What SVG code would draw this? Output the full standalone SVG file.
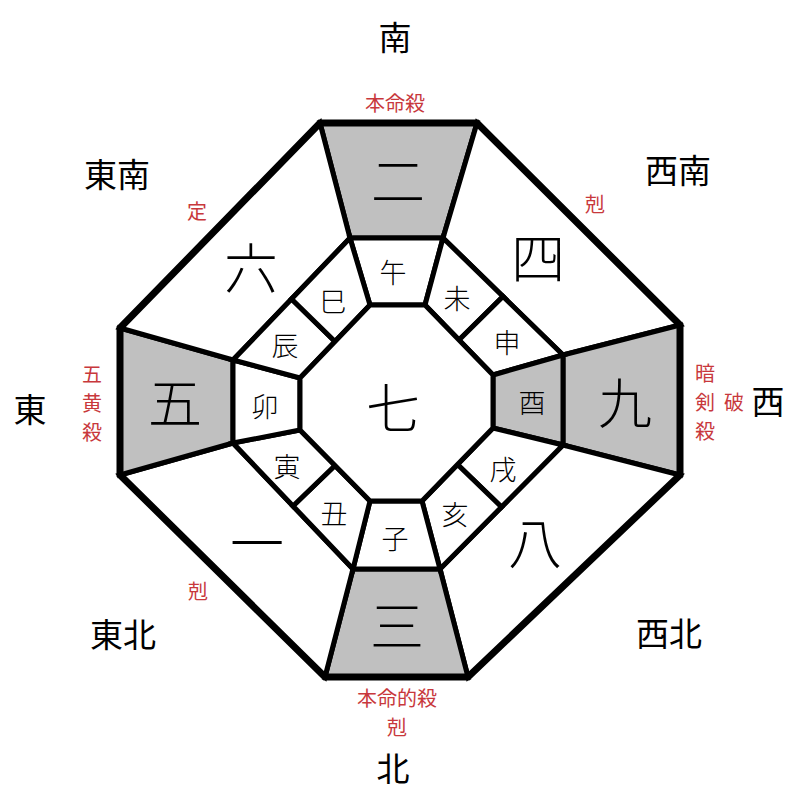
<svg xmlns="http://www.w3.org/2000/svg" width="800" height="800" viewBox="0 0 800 800">
<style>
  text { font-family: "Noto Sans CJK JP", "Noto Sans CJK SC", sans-serif; text-anchor: middle; dominant-baseline: central; }
  .cell { fill: #ffffff; stroke: #000000; stroke-width: 5; stroke-linejoin: miter; }
  .grey { fill: #c0c0c0; }
  .big { font-size: 54px; fill: #000; font-weight: 300; }
  .zod { font-size: 27px; fill: #000; font-weight: 300; }
  .dir { font-size: 33px; fill: #000; }
  .red { font-size: 20px; fill: #c8383c; }
  .frame { fill: none; stroke: #000; stroke-width: 7; stroke-linejoin: miter; }
</style>
<rect width="800" height="800" fill="#ffffff"/>

<g id="outer-ring">
  <g id="n-2"><polygon class="cell grey" points="320,123 477,123 443,238 350,238"/><text class="big" x="398" y="178">二</text></g>
  <g id="ne-4"><polygon class="cell" points="477,123 680,325 563,355 443,238"/><text class="big" x="538" y="255">四</text></g>
  <g id="e-9"><polygon class="cell grey" points="680,325 680,475 563,445 563,355"/><text class="big" x="625" y="400">九</text></g>
  <g id="se-8"><polygon class="cell" points="680,475 468,677 440,569 563,445"/><text class="big" x="535" y="540">八</text></g>
  <g id="s-3"><polygon class="cell grey" points="468,677 325,677 353,569 440,569"/><text class="big" x="397" y="623">三</text></g>
  <g id="sw-1"><polygon class="cell" points="325,677 120,475 233,443 353,569"/><text class="big" x="257" y="540">一</text></g>
  <g id="w-5"><polygon class="cell grey" points="120,475 120,328 233,360 233,443"/><text class="big" x="175" y="400">五</text></g>
  <g id="nw-6"><polygon class="cell" points="120,328 320,123 350,238 233,360"/><text class="big" x="251" y="265">六</text></g>
</g>

<g id="zodiac-ring">
  <g id="z-uma"><polygon class="cell" points="350,238 443,238 425,305 370,305"/><text class="zod" x="393" y="271">午</text></g>
  <g id="z-hitsuji"><polygon class="cell" points="443,238 503,296.5 459,340 425,305"/><text class="zod" x="457" y="297">未</text></g>
  <g id="z-saru"><polygon class="cell" points="503,296.5 563,355 493,375 459,340"/><text class="zod" x="507" y="341">申</text></g>
  <g id="z-tori"><polygon class="cell grey" points="563,355 563,445 493,428 493,375"/><text class="zod" x="532" y="401">酉</text></g>
  <g id="z-inu"><polygon class="cell" points="563,445 501.5,507 457.5,464.5 493,428"/><text class="zod" x="503" y="468">戌</text></g>
  <g id="z-i"><polygon class="cell" points="501.5,507 440,569 422,501 457.5,464.5"/><text class="zod" x="455" y="513">亥</text></g>
  <g id="z-ne"><polygon class="cell" points="440,569 353,569 370,501 422,501"/><text class="zod" x="395" y="537">子</text></g>
  <g id="z-ushi"><polygon class="cell" points="353,569 293,506 335,465.5 370,501"/><text class="zod" x="334" y="512">丑</text></g>
  <g id="z-tora"><polygon class="cell" points="293,506 233,443 300,430 335,465.5"/><text class="zod" x="287" y="465">寅</text></g>
  <g id="z-u"><polygon class="cell" points="233,443 233,360 300,378 300,430"/><text class="zod" x="265" y="405">卯</text></g>
  <g id="z-tatsu"><polygon class="cell" points="233,360 291.5,299 335,341.5 300,378"/><text class="zod" x="285" y="344">辰</text></g>
  <g id="z-mi"><polygon class="cell" points="291.5,299 350,238 370,305 335,341.5"/><text class="zod" x="333" y="300">巳</text></g>
</g>

<g id="center-7"><polygon class="cell" points="370,305 425,305 493,375 493,428 422,501 370,501 300,430 300,378"/><text class="big" x="393" y="405">七</text></g>

<g id="frame"><polygon class="frame" points="320,123 477,123 680,325 680,475 468,677 325,677 120,475 120,328"/></g>

<g id="directions">
  <text class="dir" x="395" y="36">南</text>
  <text class="dir" x="678" y="169">西南</text>
  <text class="dir" x="768" y="400">西</text>
  <text class="dir" x="669" y="632">西北</text>
  <text class="dir" x="393" y="767">北</text>
  <text class="dir" x="123" y="633">東北</text>
  <text class="dir" x="30" y="408">東</text>
  <text class="dir" x="117" y="173">東南</text>
</g>

<g id="annotations">
  <text class="red" x="395" y="102">本命殺</text>
  <text class="red" x="197" y="210">定</text>
  <text class="red" x="595" y="203">剋</text>
  <text class="red" x="705" y="372">暗</text>
  <text class="red" x="705" y="401">剣</text>
  <text class="red" x="705" y="430">殺</text>
  <text class="red" x="734" y="401">破</text>
  <text class="red" x="92" y="373">五</text>
  <text class="red" x="92" y="402">黄</text>
  <text class="red" x="92" y="431">殺</text>
  <text class="red" x="198" y="590">剋</text>
  <text class="red" x="397" y="697">本命的殺</text>
  <text class="red" x="397" y="726">剋</text>
</g>
</svg>
